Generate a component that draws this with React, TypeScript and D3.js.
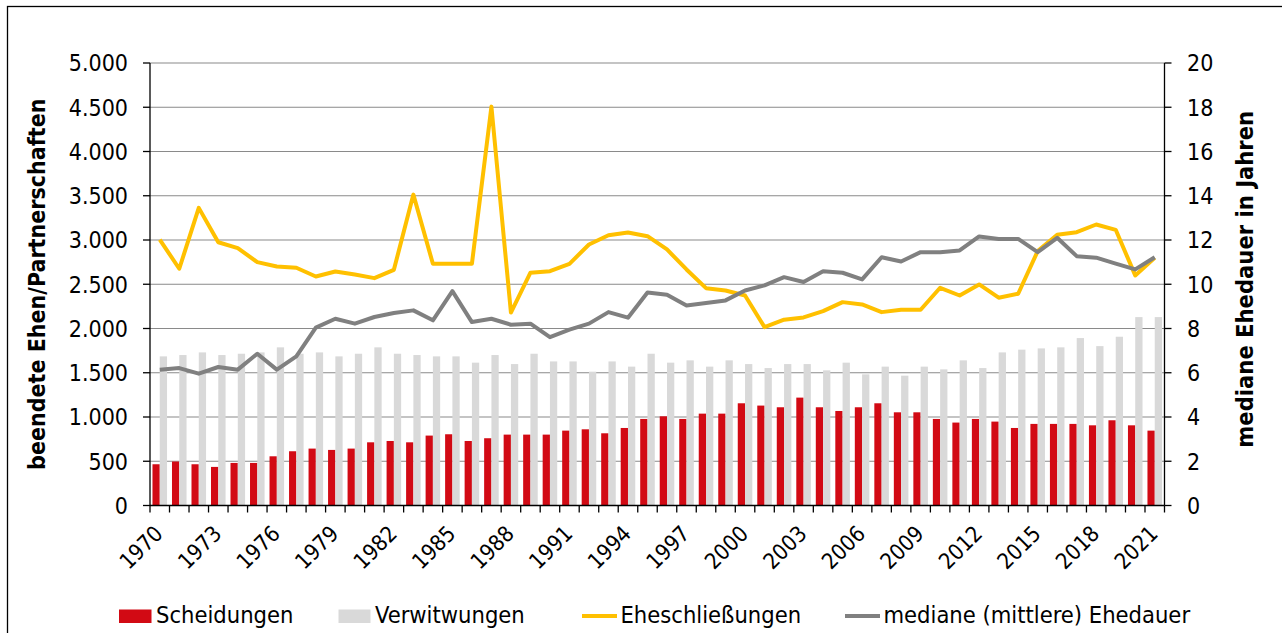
import React from 'react';
import * as d3 from 'd3';

const jahre = [
  1970, 1971, 1972, 1973, 1974, 1975, 1976, 1977, 1978, 1979,
  1980, 1981, 1982, 1983, 1984, 1985, 1986, 1987, 1988, 1989,
  1990, 1991, 1992, 1993, 1994, 1995, 1996, 1997, 1998, 1999,
  2000, 2001, 2002, 2003, 2004, 2005, 2006, 2007, 2008, 2009,
  2010, 2011, 2012, 2013, 2014, 2015, 2016, 2017, 2018, 2019,
  2020, 2021,
];

const scheidungen = [
  466, 497, 466, 436, 481, 481, 556, 613, 643, 628,
  643, 714, 729, 714, 790, 805, 729, 760, 801, 801,
  801, 846, 861, 816, 876, 978, 1008, 978, 1038, 1038,
  1155, 1129, 1110, 1219, 1110, 1068, 1110, 1155, 1053, 1053,
  978, 937, 978, 948, 876, 922, 922, 922, 906, 963,
  906, 846,
];

const verwitwungen = [
  1685, 1700, 1730, 1700, 1715, 1730, 1787, 1715, 1730, 1685,
  1715, 1787, 1715, 1700, 1685, 1685, 1614, 1700, 1598, 1715,
  1628, 1628, 1512, 1628, 1569, 1715, 1614, 1640, 1569, 1640,
  1598, 1553, 1598, 1598, 1527, 1614, 1482, 1569, 1467, 1569,
  1538, 1640, 1553, 1730, 1761, 1775, 1787, 1892, 1801, 1907,
  2129, 2129,
];

const eheschliessungen = [
  3005, 2675, 3363, 2975, 2908, 2750, 2701, 2686, 2588, 2644,
  2610, 2569, 2663, 3513, 2731, 2731, 2731, 4507, 2180, 2630,
  2648, 2731, 2949, 3054, 3085, 3043, 2893, 2667, 2456, 2430,
  2373, 2016, 2099, 2125, 2196, 2298, 2272, 2185, 2212, 2212,
  2460, 2373, 2498, 2348, 2393, 2874, 3059, 3088, 3175, 3115,
  2600, 2799,
];

const ehedauer = [
  6.14, 6.21, 5.96, 6.26, 6.14, 6.86, 6.14, 6.74, 8.04, 8.44,
  8.22, 8.52, 8.7, 8.82, 8.37, 9.69, 8.29, 8.44, 8.17, 8.22,
  7.61, 7.95, 8.22, 8.74, 8.49, 9.63, 9.53, 9.04, 9.15, 9.27,
  9.72, 9.95, 10.32, 10.1, 10.59, 10.52, 10.22, 11.22, 11.03, 11.45,
  11.45, 11.53, 12.16, 12.05, 12.05, 11.45, 12.1, 11.27, 11.2, 10.93,
  10.67, 11.22,
];

const linkeTicks = [0, 500, 1000, 1500, 2000, 2500, 3000, 3500, 4000, 4500, 5000];
const rechteTicks = [0, 2, 4, 6, 8, 10, 12, 14, 16, 18, 20];

const FONT = "'DejaVu Sans Condensed', 'DejaVu Sans', sans-serif";
const ROT = '#d20a14';
const HELLGRAU = '#d9d9d9';
const GELB = '#ffc000';
const DUNKELGRAU = '#808080';

export default function App() {
  const breite = 1282;
  const hoehe = 633;
  const links = 150;
  const rechts = 1164.5;
  const oben = 63;
  const unten = 505.5;

  const x = d3.scaleBand<number>().domain(jahre).range([links, rechts]);
  const xInnen = d3
    .scaleBand<string>()
    .domain(['s', 'v'])
    .range([0, x.bandwidth()])
    .paddingInner(0)
    .paddingOuter(0.34);
  const yL = d3.scaleLinear().domain([0, 5000]).range([unten, oben]);
  const yR = d3.scaleLinear().domain([0, 20]).range([unten, oben]);
  const mitte = (j: number) => (x(j) as number) + x.bandwidth() / 2;

  const linieL = d3
    .line<number>()
    .x((_, i) => mitte(jahre[i]))
    .y((d) => yL(d));
  const linieR = d3
    .line<number>()
    .x((_, i) => mitte(jahre[i]))
    .y((d) => yR(d));

  const fmt = (v: number) => (v >= 1000 ? d3.format(',')(v).replace(',', '.') : String(v));
  const grenzen = [...jahre.map((j) => x(j) as number), rechts];

  return (
    <div style={{ position: 'absolute', left: 0, top: 0 }}>
      <svg width={breite} height={hoehe} style={{ display: 'block', background: '#fff' }} fontFamily={FONT}>
        <rect x={7.5} y={6.5} width={breite} height={hoehe} fill="none" stroke="#000" strokeWidth={1.3} />

        {linkeTicks.filter((t) => t > 0).map((t) => (
          <line key={'g' + t} x1={links} x2={rechts} y1={yL(t)} y2={yL(t)} stroke="#8a8a8a" strokeWidth={1.2} />
        ))}

        {jahre.map((j, i) => (
          <g key={'b' + j}>
            <rect
              x={(x(j) as number) + (xInnen('s') as number)}
              y={yL(scheidungen[i])}
              width={xInnen.bandwidth()}
              height={unten - yL(scheidungen[i])}
              fill={ROT}
            />
            <rect
              x={(x(j) as number) + (xInnen('v') as number)}
              y={yL(verwitwungen[i])}
              width={xInnen.bandwidth()}
              height={unten - yL(verwitwungen[i])}
              fill={HELLGRAU}
            />
          </g>
        ))}

        <path d={linieL(eheschliessungen) || ''} fill="none" stroke={GELB} strokeWidth={4} strokeLinejoin="round" />
        <path d={linieR(ehedauer) || ''} fill="none" stroke={DUNKELGRAU} strokeWidth={4} strokeLinejoin="round" />

        {/* Achsen */}
        <line x1={links} x2={links} y1={oben} y2={unten} stroke="#000" strokeWidth={1.3} />
        <line x1={rechts} x2={rechts} y1={oben} y2={unten} stroke="#000" strokeWidth={1.3} />
        <line x1={links} x2={rechts} y1={unten} y2={unten} stroke="#000" strokeWidth={1.3} />

        {linkeTicks.map((t) => (
          <g key={'l' + t}>
            <line x1={links - 7} x2={links} y1={yL(t)} y2={yL(t)} stroke="#000" strokeWidth={1.3} />
            <text x={128} y={yL(t)} dy="0.36em" textAnchor="end" fontSize={23} fill="#000">
              {fmt(t)}
            </text>
          </g>
        ))}

        {rechteTicks.map((t) => (
          <g key={'r' + t}>
            <line x1={rechts} x2={rechts + 7} y1={yR(t)} y2={yR(t)} stroke="#000" strokeWidth={1.3} />
            <text x={1187} y={yR(t)} dy="0.36em" textAnchor="start" fontSize={23} fill="#000">
              {t}
            </text>
          </g>
        ))}

        {grenzen.map((gx, i) => (
          <line key={'t' + i} x1={gx} x2={gx} y1={unten} y2={unten + 7} stroke="#000" strokeWidth={1.3} />
        ))}

        {jahre.filter((j) => (j - 1970) % 3 === 0).map((j) => (
          <text
            key={'x' + j}
            transform={`translate(${mitte(j) + 4.5},${535}) rotate(-45)`}
            textAnchor="end"
            fontSize={22}
            fill="#000"
          >
            {j}
          </text>
        ))}

        <text
          transform={`translate(37,${(oben + unten) / 2}) rotate(-90)`}
          textAnchor="middle"
          dy="0.36em"
          fontSize={23}
          fontWeight="bold"
          fill="#000"
        >
          beendete Ehen/Partnerschaften
        </text>
        <text
          transform={`translate(1245,${(oben + unten) / 2 - 5}) rotate(-90)`}
          textAnchor="middle"
          dy="0.36em"
          fontSize={23.5}
          fontWeight="bold"
          fill="#000"
        >
          mediane Ehedauer in Jahren
        </text>

        {/* Legende */}
        <g fontSize={23.5} fill="#000">
          <rect x={119} y={609.5} width={32.5} height={13.5} fill={ROT} />
          <text x={156} y={623}>Scheidungen</text>
          <rect x={338.5} y={609.5} width={32} height={13.5} fill={HELLGRAU} />
          <text x={375} y={623}>Verwitwungen</text>
          <line x1={582} x2={617} y1={616} y2={616} stroke={GELB} strokeWidth={4} />
          <text x={620.5} y={623}>Eheschließungen</text>
          <line x1={845} x2={880} y1={616} y2={616} stroke={DUNKELGRAU} strokeWidth={4} />
          <text x={883.5} y={623}>mediane (mittlere) Ehedauer</text>
        </g>
      </svg>
    </div>
  );
}
